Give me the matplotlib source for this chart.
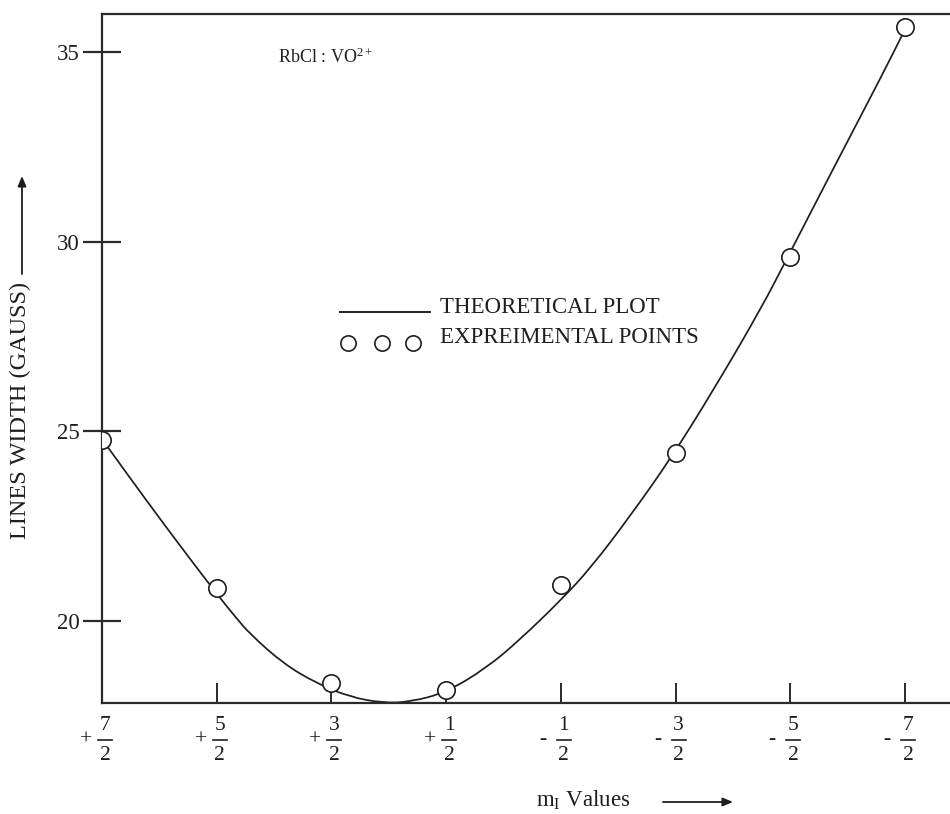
import matplotlib
matplotlib.use("Agg")
import matplotlib.pyplot as plt
import matplotlib.transforms as mtransforms
from matplotlib.lines import Line2D
from matplotlib.patches import FancyArrowPatch, PathPatch
from matplotlib.path import Path

plt.rcParams['font.family'] = ['Liberation Serif', 'DejaVu Serif']
plt.rcParams['mathtext.fontset'] = 'custom'
plt.rcParams['mathtext.rm'] = 'Liberation Serif'
plt.rcParams['mathtext.it'] = 'Liberation Serif:italic'

# ---- data ----
m_values = [3.5, 2.5, 1.5, 0.5, -0.5, -1.5, -2.5, -3.5]
tick_signs = ['+', '+', '+', '+', '-', '-', '-', '-']
tick_numerators = ['7', '5', '3', '1', '1', '3', '5', '7']
tick_denominator = '2'
exp_width = [24.78, 20.88, 18.36, 18.18, 20.95, 24.42, 29.60, 35.66]

theory_m = [3.5, 3.25, 3.0, 2.75, 2.5, 2.34, 2.21, 1.92, 1.63, 1.34, 1.05,
            0.81, 0.5, 0.15, -0.14, -0.5, -0.76, -1.1, -1.47, -1.83, -2.24,
            -2.47, -2.87, -3.31, -3.5]
theory_width = [24.80, 23.75, 22.72, 21.71, 20.72, 20.12, 19.66, 18.88, 18.36,
                18.00, 17.84, 17.87, 18.12, 18.76, 19.50, 20.55, 21.40, 22.75,
                24.34, 26.09, 28.21, 29.55, 31.90, 34.45, 35.60]
y_ticks = [20, 25, 30, 35]

INK = '#1e1e1e'
W, H = 950, 814
fig = plt.figure(figsize=(W / 100, H / 100), dpi=100)
ax_l, ax_r, ax_t, ax_b = 102, 950, 14, 703
ax = fig.add_axes([ax_l / W, 1 - ax_b / H, (ax_r - ax_l) / W, (ax_b - ax_t) / H])

# theoretical curve: smooth quadratic path through the read points
pts = list(zip(theory_m, theory_width))
verts = [pts[0]]
codes = [Path.MOVETO]
for i in range(1, len(pts) - 1):
    mid = ((pts[i][0] + pts[i + 1][0]) / 2, (pts[i][1] + pts[i + 1][1]) / 2)
    verts += [pts[i], mid]
    codes += [Path.CURVE3, Path.CURVE3]
verts.append(pts[-1])
codes.append(Path.LINETO)
ax.add_patch(PathPatch(Path(verts, codes), facecolor='none', edgecolor=INK,
                       lw=1.25, zorder=2))

ax.plot(m_values, exp_width, ls='none', marker='o', ms=12.5, mfc='white',
        mec=INK, mew=1.2, zorder=3)

ax.set_xlim(3.5, 3.5 - 7.393)
ax.set_ylim(17.84, 36.01)

for s in ['left', 'bottom', 'top']:
    ax.spines[s].set_linewidth(1.6)
    ax.spines[s].set_color('#2a2a2a')
ax.spines['right'].set_visible(False)

ax.set_yticks(y_ticks)
ax.set_yticklabels([str(v) for v in y_ticks])
ax.tick_params(axis='y', direction='inout', length=27, width=1.6,
               color='#2a2a2a', pad=2.5, labelsize=16.5, labelcolor=INK)
ax.set_xticks(m_values)
ax.tick_params(axis='x', direction='in', length=14.5, width=1.4,
               color='#2a2a2a', labelbottom=False)

# fraction tick labels
xtr = ax.get_xaxis_transform()


def offs(dx_px, dy_px):
    return mtransforms.ScaledTranslation(dx_px / 100, dy_px / 100, fig.dpi_scale_trans)


CX = 3  # px shift of the fraction to the right of the tick
for m, sgn, num in zip(m_values, tick_signs, tick_numerators):
    ax.text(m, 0, num, transform=xtr + offs(CX, -22), ha='center', va='center',
            fontsize=15.5, color=INK, clip_on=False)
    ax.text(m, 0, tick_denominator, transform=xtr + offs(CX, -53), ha='center',
            va='center', fontsize=15.5, color=INK, clip_on=False)
    if sgn == '+':
        ax.text(m, 0, '+', transform=xtr + offs(CX - 19, -37), ha='center',
                va='center', fontsize=15.5, color=INK, clip_on=False)
    else:
        ax.text(m, 0, '-', transform=xtr + offs(CX - 21, -37), ha='center',
                va='center', fontsize=15.5, color=INK, clip_on=False)

fig.canvas.draw()
for m in m_values:
    px, _ = ax.transData.transform((m, ax.get_ylim()[0]))
    y_px = H - 740
    fig.add_artist(Line2D([(px + CX - 7) / W, (px + CX + 7) / W],
                          [y_px / H, y_px / H],
                          transform=fig.transFigure, color=INK, lw=1.2))

# in-plot texts
ax.text(0.2075, 0.9376, r'RbCl : VO$^{2+}$', transform=ax.transAxes,
        fontsize=13, color=INK, ha='left', va='center')
ax.plot([0.2807, 0.3868], [0.5675, 0.5675], transform=ax.transAxes, color=INK,
        lw=1.4, clip_on=False)
ax.plot([0.2901, 0.3302, 0.3667], [0.5225] * 3, transform=ax.transAxes,
        ls='none', marker='o', ms=11, mfc='white', mec=INK, mew=1.2)
ax.text(0.3986, 0.5733, 'THEORETICAL PLOT', transform=ax.transAxes,
        fontsize=16.5, color=INK, ha='left', va='center')
ax.text(0.3986, 0.5312, 'EXPREIMENTAL POINTS', transform=ax.transAxes,
        fontsize=16.5, color=INK, ha='left', va='center')

# axis labels with arrows
fig.text(536 / W, 1 - 800 / H, r'm$_\mathrm{I}$ Values', fontsize=16.5,
         color=INK, ha='left', va='center')
fig.add_artist(FancyArrowPatch(
    (663 / W, 1 - 802 / H), (733 / W, 1 - 802 / H), transform=fig.transFigure,
    arrowstyle='-|>,head_length=6,head_width=2.5', lw=1.3, color=INK,
    shrinkA=0, shrinkB=0))
fig.text(20 / W, 1 - 410 / H, 'LINES WIDTH (GAUSS)', fontsize=17.5,
         color=INK, ha='center', va='center', rotation=90)
fig.add_artist(FancyArrowPatch(
    (22 / W, 1 - 274 / H), (22 / W, 1 - 176 / H), transform=fig.transFigure,
    arrowstyle='-|>,head_length=6,head_width=2.5', lw=1.3, color=INK,
    shrinkA=0, shrinkB=0))

fig.savefig('out.png', dpi=100, facecolor='white')
